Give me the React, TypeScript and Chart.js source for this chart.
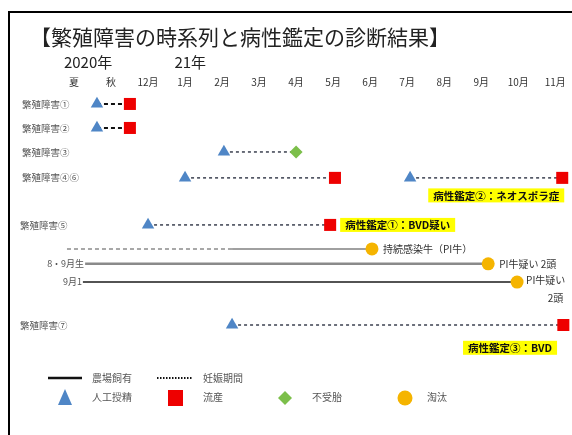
import React, { useEffect, useRef } from 'react';
import { Chart, registerables } from 'chart.js';

Chart.register(...registerables);

const FONT = '"Noto Sans CJK JP", "Noto Sans", sans-serif';

// header ticks (months, 0 = 2020/12)
const monthLabels = ['夏', '秋', '12月', '1月', '2月', '3月', '4月', '5月', '6月', '7月', '8月', '9月', '10月', '11月'];
const monthValues = [-2, -1, 0, 1, 2, 3, 4, 5, 6, 7, 8, 9, 10, 11];
const yearLabels = ['2020年', '21年'];
const yearValues = [-1.62, 1.14];

// rows
const rowLabels = ['繁殖障害①', '繁殖障害②', '繁殖障害③', '繁殖障害④⑥', '繁殖障害⑤', '繁殖障害⑦'];
const rowLanes = [2.04, 3.04, 4.04, 5.12, 7.08, 11.25];

// 妊娠期間 (dashed)
const pregStart = [-1.38, -1.38, 2.05, 1.0, 7.08, 0.0, 2.27];
const pregEnd = [-0.49, -0.49, 4.0, 5.05, 11.19, 4.92, 11.22];
const pregLane = [2.04, 3.04, 4.04, 5.12, 5.12, 7.08, 11.25];

// 人工授精
const aiX = [-1.38, -1.38, 2.05, 1.0, 7.08, 0.0, 2.27];
const aiLane = [2.04, 3.04, 4.04, 5.12, 5.12, 7.08, 11.25];
// 流産
const abortX = [-0.49, -0.49, 5.05, 11.19, 4.92, 11.22];
const abortLane = [2.04, 3.04, 5.12, 5.12, 7.08, 11.25];
// 不受胎
const infertX = [4.0];
const infertLane = [4.04];
// 淘汰
const cullX = [6.05, 9.19, 9.97];
const cullLane = [8.08, 8.7, 9.46];
const cullText = ['持続感染牛（PI牛）', 'PI牛疑い 2頭', 'PI牛疑い|2頭'];

// 農場飼有 (cow rows)
const cowLabels = ['', '8・9月生', '9月1'];
const cowPregStart = [-2.19];
const cowPregEnd = [2.27];
const cowPregLane = [8.08];
const cowStart = [2.27, -1.7, -1.76];
const cowEnd = [6.05, 9.19, 9.97];
const cowLane = [8.08, 8.7, 9.46];

// 病性鑑定
const diagText = ['病性鑑定②：ネオスポラ症', '病性鑑定①：BVD疑い', '病性鑑定③：BVD'];
const diagX = [7.57, 5.19, 8.51];
const diagLane = [5.85, 7.08, 12.2];

const pts = (xs: number[], ys: number[]) => xs.map((x, i) => ({ x, y: ys[i] }));

export default function App() {
  const ref = useRef<HTMLCanvasElement | null>(null);

  useEffect(() => {
    if (!ref.current) return;
    const datasets: any[] = [];

    pregStart.forEach((s, i) => {
      const heavy = i < 2;
      datasets.push({
        type: 'scatter',
        showLine: true,
        data: [{ x: s, y: pregLane[i] }, { x: pregEnd[i], y: pregLane[i] }],
        borderColor: heavy ? '#111111' : '#3c4150',
        borderWidth: heavy ? 2 : 1.5,
        borderDash: heavy ? [4, 3] : [3, 3],
        pointRadius: 0,
        order: 3,
      });
    });
    cowPregStart.forEach((s, i) => {
      datasets.push({
        type: 'scatter',
        showLine: true,
        data: [{ x: s, y: cowPregLane[i] }, { x: cowPregEnd[i], y: cowPregLane[i] }],
        borderColor: '#a8a8a8',
        borderWidth: 2,
        borderDash: [4, 3],
        pointRadius: 0,
        order: 3,
      });
    });
    const cowColors = ['#a0a0a0', '#8a8a8a', '#1a1a1a'];
    const cowWidths = [2, 2.5, 1.5];
    cowStart.forEach((s, i) => {
      datasets.push({
        type: 'scatter',
        showLine: true,
        data: [{ x: s, y: cowLane[i] }, { x: cowEnd[i], y: cowLane[i] }],
        borderColor: cowColors[i],
        borderWidth: cowWidths[i],
        pointRadius: 0,
        order: 3,
      });
    });

    datasets.push({
      type: 'scatter', label: '人工授精', data: pts(aiX, aiLane), pointStyle: 'triangle',
      pointRadius: 7.2, backgroundColor: '#4f86c6', borderWidth: 0, order: 1,
    });
    datasets.push({
      type: 'scatter', label: '流産', data: pts(abortX, abortLane), pointStyle: 'rect',
      pointRadius: 8.5, backgroundColor: '#ee0000', borderWidth: 0, order: 1,
    });
    datasets.push({
      type: 'scatter', label: '不受胎', data: pts(infertX, infertLane), pointStyle: 'rectRot',
      pointRadius: 6.5, backgroundColor: '#7cbf4a', borderWidth: 0, order: 1,
    });
    datasets.push({
      type: 'scatter', label: '淘汰', data: pts(cullX, cullLane), pointStyle: 'circle',
      pointRadius: 6.5, backgroundColor: '#f5b400', borderWidth: 0, order: 1,
    });

    const textPlugin = {
      id: 'texts',
      afterDraw(chart: any) {
        const ctx = chart.ctx as CanvasRenderingContext2D;
        const xs = chart.scales.x;
        const ys = chart.scales.y;
        const X = (v: number) => xs.getPixelForValue(v);
        const Y = (v: number) => ys.getPixelForValue(v);
        ctx.save();
        // frame
        ctx.strokeStyle = '#000';
        ctx.lineWidth = 2;
        ctx.strokeRect(9, 12, 800, 800);
        // title
        ctx.fillStyle = '#222';
        ctx.textBaseline = 'middle';
        ctx.textAlign = 'left';
        ctx.font = `21px ${FONT}`;
        ctx.fillText('【繁殖障害の時系列と病性鑑定の診断結果】', 30, 37);
        // years
        ctx.font = `15px ${FONT}`;
        ctx.textAlign = 'center';
        yearLabels.forEach((t, i) => ctx.fillText(t, X(yearValues[i]), Y(0.3)));
        // months
        ctx.font = `10px ${FONT}`;
        ctx.fillStyle = '#333';
        monthLabels.forEach((t, i) => ctx.fillText(t, X(monthValues[i]), Y(1.15)));
        // row labels
        ctx.font = `9.5px ${FONT}`;
        ctx.fillStyle = '#555';
        ctx.textAlign = 'left';
        rowLabels.forEach((t, i) => ctx.fillText(t, i === 4 || i === 5 ? 20 : 22, Y(rowLanes[i])));
        ctx.textAlign = 'right';
        ctx.font = `9px ${FONT}`;
        cowLabels.forEach((t, i) => {
          if (t) ctx.fillText(t, X(cowStart[i]) - 1, Y(cowLane[i]));
        });
        // cull labels
        ctx.font = `10px ${FONT}`;
        ctx.fillStyle = '#333';
        cullText.forEach((t, i) => {
          const px = X(cullX[i]);
          const py = Y(cullLane[i]);
          const parts = t.split('|');
          if (parts.length === 1) {
            ctx.textAlign = 'left';
            ctx.fillText(t, px + 11, py);
          } else {
            ctx.textAlign = 'left';
            ctx.fillText(parts[0], px + 9, py - 2);
            const w = ctx.measureText(parts[0]).width;
            ctx.textAlign = 'right';
            ctx.fillText(parts[1], px + 9 + w - 2, py + 16);
          }
        });
        // diagnosis boxes
        ctx.font = `bold 10.5px ${FONT}`;
        ctx.textAlign = 'left';
        diagText.forEach((t, i) => {
          const px = X(diagX[i]);
          const py = Y(diagLane[i]);
          const w = ctx.measureText(t).width + 10;
          ctx.fillStyle = '#ffff00';
          ctx.fillRect(px, py - 7, w, 14);
          ctx.fillStyle = '#111';
          ctx.fillText(t, px + 5, py + 0.5);
        });
        // legend
        const ly1 = 378;
        const ly2 = 398;
        ctx.strokeStyle = '#111';
        ctx.lineWidth = 2.5;
        ctx.setLineDash([]);
        ctx.beginPath();
        ctx.moveTo(48, ly1);
        ctx.lineTo(82, ly1);
        ctx.stroke();
        ctx.lineWidth = 2;
        ctx.setLineDash([1.5, 1.5]);
        ctx.beginPath();
        ctx.moveTo(157, ly1);
        ctx.lineTo(192, ly1);
        ctx.stroke();
        ctx.setLineDash([]);
        ctx.font = `10px ${FONT}`;
        ctx.fillStyle = '#555';
        ctx.textAlign = 'left';
        ctx.fillText('農場飼有', 92, ly1);
        ctx.fillText('妊娠期間', 203, ly1);
        // triangle
        ctx.fillStyle = '#4f86c6';
        ctx.beginPath();
        ctx.moveTo(65, ly2 - 9);
        ctx.lineTo(72, ly2 + 7);
        ctx.lineTo(58, ly2 + 7);
        ctx.closePath();
        ctx.fill();
        ctx.fillStyle = '#ee0000';
        ctx.fillRect(168, ly2 - 8, 15, 16);
        ctx.fillStyle = '#7cbf4a';
        ctx.beginPath();
        ctx.moveTo(285, ly2 - 7);
        ctx.lineTo(292, ly2);
        ctx.lineTo(285, ly2 + 7);
        ctx.lineTo(278, ly2);
        ctx.closePath();
        ctx.fill();
        ctx.fillStyle = '#f5b400';
        ctx.beginPath();
        ctx.arc(405, ly2, 7.5, 0, Math.PI * 2);
        ctx.fill();
        ctx.fillStyle = '#555';
        ctx.fillText('人工授精', 92, ly2 - 1);
        ctx.fillText('流産', 203, ly2 - 1);
        ctx.fillText('不受胎', 312, ly2 - 1);
        ctx.fillText('淘汰', 427, ly2 - 1);
        ctx.restore();
      },
    };

    const chart = new Chart(ref.current, {
      type: 'scatter',
      data: { datasets },
      options: {
        animation: false,
        responsive: false,
        events: [],
        layout: { autoPadding: false, padding: { left: 37, right: 2, top: 55, bottom: 0 } },
        scales: {
          x: { type: 'linear', display: false, min: -3, max: 11.4 },
          y: { type: 'linear', display: false, min: 0, max: 380 / 24, reverse: true },
        },
        plugins: { legend: { display: false }, tooltip: { enabled: false } },
        elements: { line: { tension: 0 } },
      },
      plugins: [textPlugin],
    } as any);
    return () => chart.destroy();
  }, []);

  return (
    <div style={{ position: 'absolute', left: 0, top: 0, width: 572, height: 435, background: '#fff' }}>
      <canvas ref={ref} width={572} height={435} style={{ width: 572, height: 435, display: 'block' }} />
    </div>
  );
}
